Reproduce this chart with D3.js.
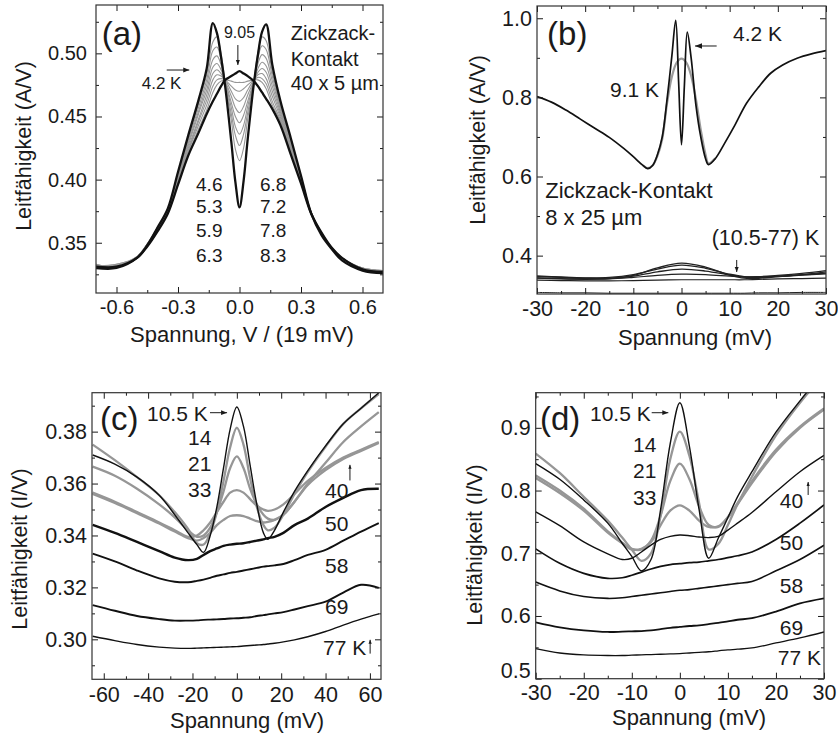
<!DOCTYPE html>
<html>
<head>
<meta charset="utf-8">
<script src="https://cdn.jsdelivr.net/npm/d3@7"></script>
<style>
  body { margin: 0; background: #fff; }
  svg { display: block; }
</style>
</head>
<body>
<svg id="chart"></svg>
<script>
const width = 838;
const height = 740;
const font = '"Liberation Sans", Arial, Helvetica, sans-serif';
const ink = '#1a1a1a';
const grey = '#969696';

// ---- panel (a): bias in units of V / 19 mV
const voltA = [-0.7, -0.6, -0.5, -0.45, -0.4, -0.35, -0.3, -0.25, -0.2, -0.16, -0.13, -0.11, -0.09, -0.07, -0.04, -0.02, 0,
               0.02, 0.04, 0.07, 0.09, 0.11, 0.13, 0.16, 0.2, 0.25, 0.3, 0.35, 0.4, 0.45, 0.5, 0.6, 0.7];
const gA42  = [0.330,0.330,0.338,0.348,0.362,0.377,0.406,0.435,0.463,0.488,0.524,0.516,0.497,0.474,0.430,0.398,0.378,
               0.399,0.432,0.476,0.499,0.517,0.523,0.491,0.462,0.433,0.403,0.373,0.356,0.345,0.336,0.328,0.326];
const gA46  = [0.332,0.331,0.339,0.349,0.362,0.376,0.405,0.433,0.460,0.483,0.509,0.513,0.500,0.477,0.447,0.424,0.415,
               0.425,0.448,0.478,0.501,0.513,0.510,0.485,0.459,0.432,0.403,0.374,0.358,0.346,0.338,0.329,0.328];
const gA53  = [0.331,0.332,0.339,0.349,0.362,0.376,0.404,0.431,0.457,0.479,0.502,0.505,0.495,0.477,0.452,0.435,0.427,
               0.436,0.453,0.478,0.496,0.506,0.503,0.482,0.457,0.430,0.402,0.374,0.358,0.346,0.338,0.330,0.328];
const gA59  = [0.333,0.331,0.338,0.348,0.361,0.375,0.403,0.429,0.454,0.475,0.495,0.498,0.491,0.478,0.457,0.442,0.436,
               0.443,0.458,0.478,0.492,0.499,0.496,0.478,0.455,0.428,0.401,0.373,0.357,0.346,0.338,0.329,0.327];
const gA63  = [0.332,0.333,0.339,0.349,0.361,0.375,0.402,0.427,0.452,0.471,0.489,0.492,0.487,0.478,0.461,0.450,0.445,
               0.451,0.462,0.478,0.488,0.493,0.490,0.474,0.453,0.427,0.400,0.373,0.357,0.346,0.338,0.330,0.328];
const gA68  = [0.331,0.332,0.338,0.348,0.360,0.375,0.401,0.425,0.448,0.467,0.484,0.487,0.484,0.478,0.466,0.457,0.453,
               0.458,0.467,0.478,0.485,0.488,0.485,0.470,0.451,0.425,0.399,0.373,0.357,0.346,0.338,0.329,0.327];
const gA72  = [0.333,0.331,0.339,0.348,0.360,0.374,0.400,0.423,0.446,0.463,0.479,0.483,0.482,0.479,0.470,0.464,0.462,
               0.465,0.471,0.479,0.483,0.484,0.480,0.466,0.449,0.424,0.399,0.373,0.357,0.346,0.338,0.330,0.328];
const gA78  = [0.332,0.332,0.338,0.348,0.360,0.374,0.399,0.422,0.443,0.459,0.474,0.479,0.480,0.479,0.474,0.471,0.470,
               0.472,0.475,0.479,0.481,0.480,0.476,0.462,0.447,0.422,0.398,0.373,0.357,0.346,0.338,0.329,0.327];
const gA83  = [0.331,0.333,0.338,0.347,0.359,0.374,0.398,0.420,0.440,0.455,0.469,0.475,0.478,0.479,0.478,0.477,0.477,
               0.477,0.478,0.479,0.479,0.477,0.472,0.459,0.446,0.421,0.397,0.373,0.357,0.346,0.338,0.330,0.328];
const gA905 = [0.331,0.331,0.338,0.347,0.359,0.373,0.396,0.419,0.437,0.452,0.462,0.468,0.474,0.479,0.482,0.484,0.486,
               0.484,0.482,0.478,0.474,0.469,0.464,0.456,0.443,0.420,0.397,0.373,0.358,0.346,0.338,0.329,0.327];

// ---- panel (b): mV
const voltB = [-30, -27, -24, -21, -18, -15, -12, -10, -8, -7, -6, -5, -4, -3, -2, -1.2, -0.6, 0,
               0.6, 1.2, 2, 3, 4, 5, 5.6, 7, 9, 11, 13.5, 16, 18.5, 21, 24, 27, 30];
const gB42 = [0.802,0.788,0.768,0.745,0.722,0.699,0.671,0.650,0.628,0.620,0.628,0.655,0.700,0.795,0.905,0.995,0.840,0.680,
              0.830,0.965,0.900,0.780,0.700,0.645,0.630,0.645,0.685,0.728,0.785,0.826,0.861,0.882,0.899,0.910,0.918];
const voltB91 = [-8, -7, -6, -5, -4, -3, -2, -1, 0, 1, 2, 3, 4, 5, 5.6, 7];
const gB91 = [0.628,0.621,0.628,0.652,0.695,0.785,0.852,0.888,0.898,0.888,0.855,0.795,0.718,0.655,0.633,0.646];
const voltBLow = [-30, -25, -20, -15, -10, -5, 0, 5, 10, 13, 16, 20, 25, 30];
const gB105 = [0.347,0.345,0.343,0.343,0.350,0.369,0.381,0.371,0.351,0.343,0.343,0.347,0.352,0.359];
const gB14  = [0.349,0.346,0.344,0.345,0.352,0.366,0.376,0.368,0.353,0.347,0.347,0.350,0.355,0.362];
const gB21  = [0.344,0.342,0.341,0.342,0.348,0.359,0.366,0.361,0.351,0.346,0.345,0.347,0.351,0.356];
const gB33  = [0.343,0.341,0.340,0.341,0.345,0.350,0.353,0.352,0.348,0.346,0.346,0.348,0.351,0.354];
const gB50  = [0.338,0.337,0.336,0.336,0.337,0.338,0.339,0.339,0.339,0.339,0.340,0.341,0.342,0.343];
const gB77  = [0.307,0.306,0.306,0.305,0.305,0.305,0.305,0.305,0.305,0.305,0.306,0.306,0.307,0.307];

// ---- panel (c): mV
const voltC = [-65, -55, -45, -35, -28, -22, -18, -15, -12, -9, -6, -3, 0, 3, 6, 9, 12, 14, 17, 21, 26, 32, 40, 48, 56, 64];
const gC105 = [0.3710,0.3675,0.3625,0.3555,0.3480,0.3410,0.3365,0.3335,0.3400,0.3510,0.3660,0.3810,0.3895,
               0.3820,0.3670,0.3520,0.3410,0.3385,0.3420,0.3490,0.3570,0.3650,0.3745,0.3830,0.3890,0.3950];
const gC14  = [0.3750,0.3690,0.3625,0.3555,0.3490,0.3425,0.3370,0.3365,0.3410,0.3490,0.3610,0.3740,0.3815,
               0.3750,0.3620,0.3510,0.3440,0.3420,0.3430,0.3480,0.3560,0.3645,0.3742,0.3830,0.3890,0.3945];
const gC21  = [0.3665,0.3630,0.3580,0.3520,0.3470,0.3420,0.3395,0.3400,0.3430,0.3490,0.3570,0.3660,0.3705,
               0.3660,0.3580,0.3520,0.3480,0.3465,0.3460,0.3480,0.3530,0.3600,0.3680,0.3760,0.3820,0.3875];
const gC33  = [0.3565,0.3530,0.3490,0.3450,0.3420,0.3395,0.3400,0.3420,0.3450,0.3490,0.3530,0.3565,0.3575,
               0.3565,0.3540,0.3515,0.3500,0.3495,0.3500,0.3520,0.3560,0.3610,0.3660,0.3700,0.3730,0.3760];
const gC40  = [0.3560,0.3525,0.3486,0.3446,0.3415,0.3390,0.3380,0.3390,0.3410,0.3440,0.3460,0.3475,0.3478,
               0.3475,0.3465,0.3455,0.3450,0.3452,0.3460,0.3480,0.3530,0.3595,0.3652,0.3695,0.3726,0.3756];
const gC50  = [0.3441,0.3410,0.3375,0.3340,0.3315,0.3305,0.3310,0.3325,0.3340,0.3350,0.3360,0.3365,0.3368,
               0.3370,0.3375,0.3380,0.3385,0.3390,0.3395,0.3410,0.3440,0.3465,0.3510,0.3545,0.3575,0.3580];
const gC58  = [0.3330,0.3300,0.3265,0.3235,0.3222,0.3220,0.3225,0.3230,0.3237,0.3245,0.3250,0.3256,0.3260,
               0.3265,0.3270,0.3275,0.3280,0.3282,0.3285,0.3290,0.3305,0.3325,0.3345,0.3380,0.3415,0.3448];
const gC69  = [0.3132,0.3110,0.3090,0.3078,0.3072,0.3072,0.3073,0.3075,0.3076,0.3077,0.3078,0.3080,0.3081,
               0.3083,0.3085,0.3090,0.3093,0.3096,0.3100,0.3105,0.3115,0.3128,0.3145,0.3180,0.3210,0.3198];
const gC77  = [0.3012,0.2995,0.2980,0.2970,0.2966,0.2965,0.2966,0.2967,0.2968,0.2969,0.2970,0.2971,0.2972,
               0.2974,0.2976,0.2978,0.2980,0.2982,0.2985,0.2990,0.2998,0.3010,0.3030,0.3055,0.3078,0.3098];

// ---- panel (d): mV
const voltD = [-30, -25, -20, -15, -12, -10, -8, -6, -4, -2, 0, 2, 4, 6, 8, 10, 12, 15, 20, 25, 30];
const gD105 = [0.843,0.818,0.785,0.748,0.716,0.695,0.672,0.690,0.770,0.875,0.940,0.870,0.770,0.692,0.724,0.757,0.790,0.830,0.893,0.943,0.990];
const gD14  = [0.859,0.828,0.790,0.752,0.725,0.706,0.688,0.700,0.760,0.850,0.894,0.855,0.780,0.706,0.715,0.745,0.778,0.822,0.888,0.940,0.985];
const gD21  = [0.824,0.800,0.771,0.735,0.717,0.707,0.706,0.720,0.760,0.815,0.843,0.818,0.775,0.745,0.742,0.758,0.780,0.815,0.865,0.902,0.931];
const gD33  = [0.820,0.796,0.768,0.733,0.716,0.706,0.707,0.718,0.745,0.768,0.7765,0.768,0.752,0.742,0.743,0.757,0.778,0.812,0.862,0.900,0.929];
const gD40  = [0.766,0.744,0.718,0.699,0.690,0.692,0.702,0.713,0.722,0.727,0.729,0.728,0.726,0.725,0.727,0.737,0.748,0.765,0.798,0.830,0.856];
const gD50  = [0.707,0.684,0.668,0.660,0.661,0.665,0.670,0.675,0.679,0.682,0.6835,0.685,0.686,0.688,0.690,0.693,0.696,0.702,0.722,0.748,0.777];
const gD58  = [0.654,0.640,0.631,0.628,0.629,0.631,0.633,0.635,0.637,0.639,0.641,0.642,0.644,0.646,0.648,0.650,0.652,0.655,0.672,0.690,0.7127];
const gD69  = [0.590,0.582,0.577,0.5745,0.575,0.5755,0.576,0.577,0.579,0.581,0.5825,0.584,0.585,0.587,0.589,0.5915,0.594,0.5965,0.607,0.620,0.628];
const gD77  = [0.548,0.541,0.538,0.537,0.537,0.5375,0.538,0.5385,0.539,0.5395,0.540,0.541,0.542,0.543,0.5445,0.546,0.547,0.549,0.557,0.565,0.5745];

const svg = d3.select('#chart')
    .attr('width', width)
    .attr('height', height)
    .style('font-family', font);

const panels = [
  {
    name: 'a', left: 96, right: 383, top: 5, bottom: 293,
    xDomain: [-0.7, 0.7], yDomain: [0.3102, 0.5383],
    xTicks: [-0.6, -0.3, 0, 0.3, 0.6], xMinor: [-0.45, -0.15, 0.15, 0.45],
    yTicks: [0.35, 0.40, 0.45, 0.50], yMinor: [0.325, 0.375, 0.425, 0.475, 0.525],
    xFmt: d => d.toFixed(1), yFmt: d => d.toFixed(2), tickFont: 20, xPad: 7, yPad: 9,
    xTitle: 'Spannung, V / (19 mV)', xTitlePos: [242, 342],
    yTitle: 'Leitfähigkeit (A/V)', yTitlePos: [31, 146],
    series: [
      {xs: voltA, ys: gA46, color: grey, w: 1.1}, {xs: voltA, ys: gA53, color: grey, w: 1.1},
      {xs: voltA, ys: gA59, color: grey, w: 1.1}, {xs: voltA, ys: gA63, color: grey, w: 1.1},
      {xs: voltA, ys: gA68, color: grey, w: 1.1}, {xs: voltA, ys: gA72, color: grey, w: 1.1},
      {xs: voltA, ys: gA78, color: grey, w: 1.1}, {xs: voltA, ys: gA83, color: grey, w: 1.1},
      {xs: voltA, ys: gA905, color: '#111', w: 2.3}, {xs: voltA, ys: gA42, color: '#111', w: 2.3}
    ],
    labels: [
      {t: '(a)', x: -0.672, y: 0.5066, s: 33},
      {t: '9.05', x: 0.0, y: 0.5119, s: 16, a: 'middle'},
      {t: '4.2 K', x: -0.477, y: 0.4715, s: 17},
      {t: 'Zickzack-', x: 0.25, y: 0.5106, s: 20},
      {t: 'Kontakt', x: 0.25, y: 0.4902, s: 20},
      {t: '40 x 5 µm', x: 0.25, y: 0.4710, s: 20},
      {t: '4.6', x: -0.212, y: 0.3912, s: 19}, {t: '5.3', x: -0.212, y: 0.3733, s: 19},
      {t: '5.9', x: -0.212, y: 0.3543, s: 19}, {t: '6.3', x: -0.212, y: 0.3350, s: 19},
      {t: '6.8', x: 0.10, y: 0.3912, s: 19}, {t: '7.2', x: 0.10, y: 0.3733, s: 19},
      {t: '7.8', x: 0.10, y: 0.3543, s: 19}, {t: '8.3', x: 0.10, y: 0.3350, s: 19}
    ],
    arrows: [
      {x1: -0.008, y1: 0.5066, x2: -0.008, y2: 0.4908, h: 5},
      {x1: -0.355, y1: 0.4868, x2: -0.245, y2: 0.4868, h: 6}
    ]
  },
  {
    name: 'b', left: 537, right: 826, top: 6, bottom: 294,
    xDomain: [-30, 30], yDomain: [0.303, 1.031],
    xTicks: [-30, -20, -10, 0, 10, 20, 30], xMinor: [-25, -15, -5, 5, 15, 25],
    yTicks: [0.4, 0.6, 0.8, 1.0], yMinor: [0.5, 0.7, 0.9],
    xFmt: d => String(d), yFmt: d => d.toFixed(1), tickFont: 21.5, xPad: 7, yPad: 5,
    xTitle: 'Spannung (mV)', xTitlePos: [695, 345],
    yTitle: 'Leitfähigkeit (A/V)', yTitlePos: [485, 140],
    series: [
      {xs: voltBLow, ys: gB77, color: '#222', w: 1.0},
      {xs: voltBLow, ys: gB50, color: '#222', w: 1.2},
      {xs: voltBLow, ys: gB33, color: '#222', w: 1.2},
      {xs: voltBLow, ys: gB21, color: '#222', w: 1.3},
      {xs: voltBLow, ys: gB14, color: '#222', w: 1.3},
      {xs: voltBLow, ys: gB105, color: '#222', w: 1.4},
      {xs: voltB91, ys: gB91, color: '#9a9a9a', w: 2.2},
      {xs: voltB, ys: gB42, color: '#111', w: 1.7}
    ],
    labels: [
      {t: '(b)', x: -27.9, y: 0.9324, s: 33},
      {t: '4.2 K', x: 10.7, y: 0.9433, s: 21},
      {t: '9.1 K', x: -14.85, y: 0.8017, s: 21},
      {t: 'Zickzack-Kontakt', x: -28.3, y: 0.5449, s: 22},
      {t: '8 x 25 µm', x: -28.3, y: 0.4774, s: 22},
      {t: '(10.5-77) K', x: 6.27, y: 0.4269, s: 21.5}
    ],
    arrows: [
      {x1: 7.3, y1: 0.9299, x2: 2.8, y2: 0.9299, h: 7},
      {x1: 11.46, y1: 0.389, x2: 11.46, y2: 0.3586, h: 5}
    ]
  },
  {
    name: 'c', left: 92, right: 381, top: 392.7, bottom: 679.3,
    xDomain: [-65.3, 65], yDomain: [0.2846, 0.395],
    xTicks: [-60, -40, -20, 0, 20, 40, 60], xMinor: [-50, -30, -10, 10, 30, 50],
    yTicks: [0.30, 0.32, 0.34, 0.36, 0.38], yMinor: [0.29, 0.31, 0.33, 0.35, 0.37, 0.39],
    xFmt: d => String(d), yFmt: d => d.toFixed(2), tickFont: 21.5, xPad: 7, yPad: 5,
    xTitle: 'Spannung (mV)', xTitlePos: [247, 728],
    yTitle: 'Leitfähigkeit (I/V)', yTitlePos: [26.5, 549],
    series: [
      {xs: voltC, ys: gC40, color: grey, w: 2.3}, {xs: voltC, ys: gC33, color: grey, w: 2.3},
      {xs: voltC, ys: gC21, color: grey, w: 2.3}, {xs: voltC, ys: gC14, color: grey, w: 2.3},
      {xs: voltC, ys: gC77, color: '#111', w: 1.4}, {xs: voltC, ys: gC69, color: '#111', w: 1.9},
      {xs: voltC, ys: gC58, color: '#111', w: 1.9}, {xs: voltC, ys: gC50, color: '#111', w: 2.4},
      {xs: voltC, ys: gC105, color: '#111', w: 1.4}
    ],
    labels: [
      {t: '(c)', x: -61.7, y: 0.3806, s: 33},
      {t: '10.5 K', x: -40.5, y: 0.3842, s: 21},
      {t: '14', x: -22.0, y: 0.3749, s: 21}, {t: '21', x: -22.0, y: 0.3650, s: 21},
      {t: '33', x: -22.0, y: 0.3549, s: 21},
      {t: '40', x: 39.8, y: 0.3546, s: 21}, {t: '50', x: 39.8, y: 0.3417, s: 21},
      {t: '58', x: 39.8, y: 0.3254, s: 21}, {t: '69', x: 39.8, y: 0.3096, s: 21},
      {t: '77 K', x: 38.9, y: 0.2940, s: 21}
    ],
    arrows: [
      {x1: -12.1, y1: 0.3873, x2: -4.4, y2: 0.3873, h: 6},
      {x1: 51.0, y1: 0.3612, x2: 51.0, y2: 0.3672, h: 4},
      {x1: 60.1, y1: 0.2945, x2: 60.1, y2: 0.2998, h: 4}
    ]
  },
  {
    name: 'd', left: 535.7, right: 824, top: 392.7, bottom: 678.7,
    xDomain: [-30, 30], yDomain: [0.5, 0.956],
    xTicks: [-30, -20, -10, 0, 10, 20, 30], xMinor: [-25, -15, -5, 5, 15, 25],
    yTicks: [0.5, 0.6, 0.7, 0.8, 0.9], yMinor: [0.55, 0.65, 0.75, 0.85, 0.95],
    xFmt: d => String(d), yFmt: d => d.toFixed(1), tickFont: 21.5, xPad: 6, yPad: 5,
    yLiftFirst: 8,
    xTitle: 'Spannung (mV)', xTitlePos: [689, 725],
    yTitle: 'Leitfähigkeit (I/V)', yTitlePos: [481.5, 545],
    series: [
      {xs: voltD, ys: gD33, color: grey, w: 2.3}, {xs: voltD, ys: gD21, color: grey, w: 2.3},
      {xs: voltD, ys: gD14, color: grey, w: 2.3},
      {xs: voltD, ys: gD77, color: '#111', w: 1.3}, {xs: voltD, ys: gD69, color: '#111', w: 1.8},
      {xs: voltD, ys: gD58, color: '#111', w: 1.6}, {xs: voltD, ys: gD50, color: '#111', w: 1.7},
      {xs: voltD, ys: gD40, color: '#111', w: 1.4}, {xs: voltD, ys: gD105, color: '#111', w: 1.4}
    ],
    labels: [
      {t: '(d)', x: -29.1, y: 0.8965, s: 33},
      {t: '10.5 K', x: -18.7, y: 0.9114, s: 21},
      {t: '14', x: -9.75, y: 0.8619, s: 21}, {t: '21', x: -9.75, y: 0.8195, s: 21},
      {t: '33', x: -9.75, y: 0.7770, s: 21},
      {t: '40', x: 20.8, y: 0.7727, s: 21}, {t: '50', x: 20.8, y: 0.7052, s: 21},
      {t: '58', x: 20.8, y: 0.6362, s: 21}, {t: '69', x: 20.8, y: 0.5697, s: 21},
      {t: '77 K', x: 20.4, y: 0.5218, s: 21}
    ],
    arrows: [
      {x1: -5.86, y1: 0.9241, x2: -2.4, y2: 0.9241, h: 6},
      {x1: 26.7, y1: 0.7929, x2: 26.7, y2: 0.8136, h: 4}
    ]
  }
];

function arrow(g, x1, y1, x2, y2, h) {
  g.append('line')
    .attr('x1', x1).attr('y1', y1).attr('x2', x2).attr('y2', y2)
    .attr('stroke', ink).attr('stroke-width', 1);
  const a = Math.atan2(y2 - y1, x2 - x1);
  const w = h * 0.4;
  const pts = [
    [x2, y2],
    [x2 - h * Math.cos(a) + w * Math.sin(a), y2 - h * Math.sin(a) - w * Math.cos(a)],
    [x2 - h * Math.cos(a) - w * Math.sin(a), y2 - h * Math.sin(a) + w * Math.cos(a)]
  ];
  g.append('path').attr('d', 'M' + pts.join('L') + 'Z').attr('fill', ink);
}

function styleAxis(sel, size) {
  sel.attr('font-family', font).attr('font-size', size).attr('color', ink);
  sel.select('.domain').remove();
  sel.selectAll('line').attr('stroke-width', 1);
}

function drawPanel(p) {
  const x = d3.scaleLinear().domain(p.xDomain).range([p.left, p.right]);
  const y = d3.scaleLinear().domain(p.yDomain).range([p.bottom, p.top]);
  const g = svg.append('g').attr('class', 'panel-' + p.name);

  const clipId = 'clip-' + p.name;
  g.append('clipPath').attr('id', clipId)
    .append('rect')
    .attr('x', p.left).attr('y', p.top)
    .attr('width', p.right - p.left).attr('height', p.bottom - p.top);

  // curves
  const line = d3.line()
    .x(d => x(d[0]))
    .y(d => y(d[1]))
    .curve(d3.curveCatmullRom.alpha(0.5));

  g.append('g').attr('clip-path', `url(#${clipId})`)
    .selectAll('path')
    .data(p.series)
    .enter()
    .append('path')
    .attr('d', s => line(d3.zip(s.xs, s.ys)))
    .attr('fill', 'none')
    .attr('stroke', s => s.color)
    .attr('stroke-width', s => s.w)
    .attr('stroke-linejoin', 'round');

  // axes, ticks inside on all four sides
  const xb = g.append('g').attr('transform', `translate(0,${p.bottom})`)
    .call(d3.axisBottom(x).tickValues(p.xTicks).tickSize(-6).tickSizeOuter(0)
      .tickPadding(p.xPad).tickFormat(p.xFmt));
  styleAxis(xb, p.tickFont);
  const xbm = g.append('g').attr('transform', `translate(0,${p.bottom})`)
    .call(d3.axisBottom(x).tickValues(p.xMinor).tickSize(-3).tickSizeOuter(0).tickFormat(''));
  styleAxis(xbm, p.tickFont);

  const xt = g.append('g').attr('transform', `translate(0,${p.top})`)
    .call(d3.axisTop(x).tickValues(p.xTicks).tickSize(-6).tickSizeOuter(0).tickFormat(''));
  styleAxis(xt, p.tickFont);
  const xtm = g.append('g').attr('transform', `translate(0,${p.top})`)
    .call(d3.axisTop(x).tickValues(p.xMinor).tickSize(-3).tickSizeOuter(0).tickFormat(''));
  styleAxis(xtm, p.tickFont);

  const yl = g.append('g').attr('transform', `translate(${p.left},0)`)
    .call(d3.axisLeft(y).tickValues(p.yTicks).tickSize(-6).tickSizeOuter(0)
      .tickPadding(p.yPad).tickFormat(p.yFmt));
  styleAxis(yl, p.tickFont);
  if (p.yLiftFirst) {
    // the lowest label sits on the corner; lift it like the original does
    yl.selectAll('.tick').filter(d => d === p.yTicks[0]).select('text').attr('y', -p.yLiftFirst);
  }
  const ylm = g.append('g').attr('transform', `translate(${p.left},0)`)
    .call(d3.axisLeft(y).tickValues(p.yMinor).tickSize(-3).tickSizeOuter(0).tickFormat(''));
  styleAxis(ylm, p.tickFont);

  const yr = g.append('g').attr('transform', `translate(${p.right},0)`)
    .call(d3.axisRight(y).tickValues(p.yTicks).tickSize(-6).tickSizeOuter(0).tickFormat(''));
  styleAxis(yr, p.tickFont);
  const yrm = g.append('g').attr('transform', `translate(${p.right},0)`)
    .call(d3.axisRight(y).tickValues(p.yMinor).tickSize(-3).tickSizeOuter(0).tickFormat(''));
  styleAxis(yrm, p.tickFont);

  g.append('rect')
    .attr('x', p.left).attr('y', p.top)
    .attr('width', p.right - p.left).attr('height', p.bottom - p.top)
    .attr('fill', 'none').attr('stroke', '#333').attr('stroke-width', 1.2);

  // axis titles
  g.append('text')
    .attr('x', p.xTitlePos[0]).attr('y', p.xTitlePos[1])
    .attr('text-anchor', 'middle')
    .attr('font-size', 22).attr('fill', ink)
    .text(p.xTitle);

  g.append('text')
    .attr('transform', `translate(${p.yTitlePos[0]},${p.yTitlePos[1]}) rotate(-90)`)
    .attr('text-anchor', 'middle')
    .attr('font-size', 21.5).attr('fill', ink)
    .text(p.yTitle);

  // annotations
  g.selectAll('.label')
    .data(p.labels)
    .enter()
    .append('text')
    .attr('class', 'label')
    .attr('x', d => x(d.x))
    .attr('y', d => y(d.y))
    .attr('text-anchor', d => d.a || 'start')
    .attr('font-size', d => d.s)
    .attr('fill', ink)
    .text(d => d.t);

  p.arrows.forEach(a => arrow(g, x(a.x1), y(a.y1), x(a.x2), y(a.y2), a.h));
}

panels.forEach(drawPanel);
</script>
</body>
</html>
